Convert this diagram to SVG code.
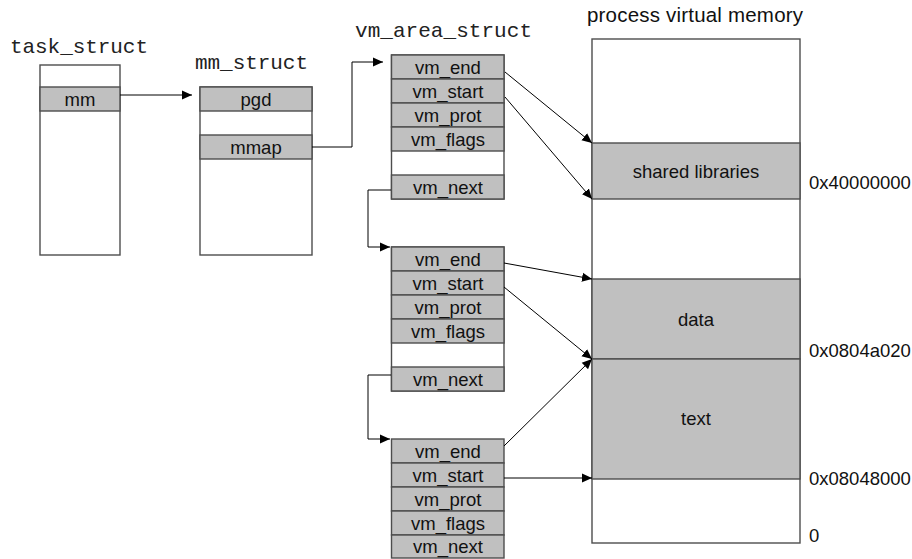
<svg xmlns="http://www.w3.org/2000/svg" width="912" height="559" viewBox="0 0 912 559">
<style>
  .box{fill:#ffffff;stroke:#4d4d4d;stroke-width:1.4}
  .row{fill:#c0c0c0;stroke:#4d4d4d;stroke-width:1.4}
  .mono{font-family:"Liberation Mono","Courier New",monospace;font-size:21px;fill:#222}
  .lbl{font-family:"Liberation Sans",Arial,sans-serif;font-size:18.5px;fill:#111;text-anchor:middle}
  .addr{font-family:"Liberation Sans",Arial,sans-serif;font-size:18.5px;fill:#111}
  .title{font-family:"Liberation Sans",Arial,sans-serif;font-size:20.5px;fill:#111}
  .conn{fill:none;stroke:#000;stroke-width:1;marker-end:url(#ah)}
</style>
<defs>
  <marker id="ah" markerUnits="userSpaceOnUse" markerWidth="11" markerHeight="10" viewBox="0 0 11 10" refX="10" refY="5" orient="auto">
    <path d="M0,0.5 L10,5 L0,9.5 z" fill="#000"/>
  </marker>
</defs>
<rect width="912" height="559" fill="#fff"/>

<g id="task_struct">
  <text class="mono" x="10" y="53" textLength="138">task_struct</text>
  <rect class="box" x="40" y="65" width="80" height="190"/>
  <rect class="row" x="40" y="87" width="80" height="24"/>
  <text class="lbl" x="80" y="105.5">mm</text>
</g>

<g id="mm_struct">
  <text class="mono" x="195" y="69" textLength="113">mm_struct</text>
  <rect class="box" x="200" y="87" width="112" height="168"/>
  <rect class="row" x="200" y="87" width="112" height="24"/>
  <text class="lbl" x="256" y="105.5">pgd</text>
  <rect class="row" x="200" y="135" width="112" height="24"/>
  <text class="lbl" x="256" y="153.5">mmap</text>
</g>

<g id="vm_area_1">
  <text class="mono" x="355" y="37" textLength="177">vm_area_struct</text>
  <rect class="box" x="391.5" y="55" width="112.5" height="144"/>
  <rect class="row" x="391.5" y="55" width="112.5" height="24"/>
  <text class="lbl" x="448" y="73.5">vm_end</text>
  <rect class="row" x="391.5" y="79" width="112.5" height="24"/>
  <text class="lbl" x="448" y="97.5">vm_start</text>
  <rect class="row" x="391.5" y="103" width="112.5" height="24"/>
  <text class="lbl" x="448" y="121.5">vm_prot</text>
  <rect class="row" x="391.5" y="127" width="112.5" height="24"/>
  <text class="lbl" x="448" y="145.5">vm_flags</text>
  <rect class="row" x="391.5" y="175" width="112.5" height="24"/>
  <text class="lbl" x="448" y="193.5">vm_next</text>
</g>

<g id="vm_area_2">
  <rect class="box" x="391.5" y="247" width="112.5" height="144"/>
  <rect class="row" x="391.5" y="247" width="112.5" height="24"/>
  <text class="lbl" x="448" y="265.5">vm_end</text>
  <rect class="row" x="391.5" y="271" width="112.5" height="24"/>
  <text class="lbl" x="448" y="289.5">vm_start</text>
  <rect class="row" x="391.5" y="295" width="112.5" height="24"/>
  <text class="lbl" x="448" y="313.5">vm_prot</text>
  <rect class="row" x="391.5" y="319" width="112.5" height="24"/>
  <text class="lbl" x="448" y="337.5">vm_flags</text>
  <rect class="row" x="391.5" y="367" width="112.5" height="24"/>
  <text class="lbl" x="448" y="385.5">vm_next</text>
</g>

<g id="vm_area_3">
  <rect class="row" x="391.5" y="439" width="112.5" height="24"/>
  <text class="lbl" x="448" y="457.5">vm_end</text>
  <rect class="row" x="391.5" y="463" width="112.5" height="24"/>
  <text class="lbl" x="448" y="481.5">vm_start</text>
  <rect class="row" x="391.5" y="487" width="112.5" height="24"/>
  <text class="lbl" x="448" y="505.5">vm_prot</text>
  <rect class="row" x="391.5" y="511" width="112.5" height="24"/>
  <text class="lbl" x="448" y="529.5">vm_flags</text>
  <rect class="row" x="391.5" y="535" width="112.5" height="23"/>
  <text class="lbl" x="448" y="553">vm_next</text>
</g>

<g id="process_vm">
  <text class="title" x="587" y="22" textLength="216">process virtual memory</text>
  <rect class="box" x="592" y="39" width="208" height="504"/>
  <rect class="row" x="592" y="143" width="208" height="56"/>
  <text class="lbl" x="696" y="177.5">shared libraries</text>
  <rect class="row" x="592" y="279" width="208" height="80"/>
  <text class="lbl" x="696" y="325.5">data</text>
  <rect class="row" x="592" y="359" width="208" height="120"/>
  <text class="lbl" x="696" y="425">text</text>
  <text class="addr" x="809" y="189">0x40000000</text>
  <text class="addr" x="809" y="357">0x0804a020</text>
  <text class="addr" x="809" y="485">0x08048000</text>
  <text class="addr" x="809" y="542">0</text>
</g>

<g id="connectors">
  <path class="conn" d="M120,95 H192"/>
  <path class="conn" d="M312,147 H352 V62 H383"/>
  <path class="conn" d="M391,190 H368 V247 H390"/>
  <path class="conn" d="M391,375 H368 V439 H390"/>
  <path class="conn" d="M505,72 L592,143"/>
  <path class="conn" d="M505,97 L592,199"/>
  <path class="conn" d="M504,263 L592,279"/>
  <path class="conn" d="M504,287 L592,359"/>
  <path class="conn" d="M504,446 L592,359"/>
  <path class="conn" d="M504,478 H592"/>
</g>
</svg>
